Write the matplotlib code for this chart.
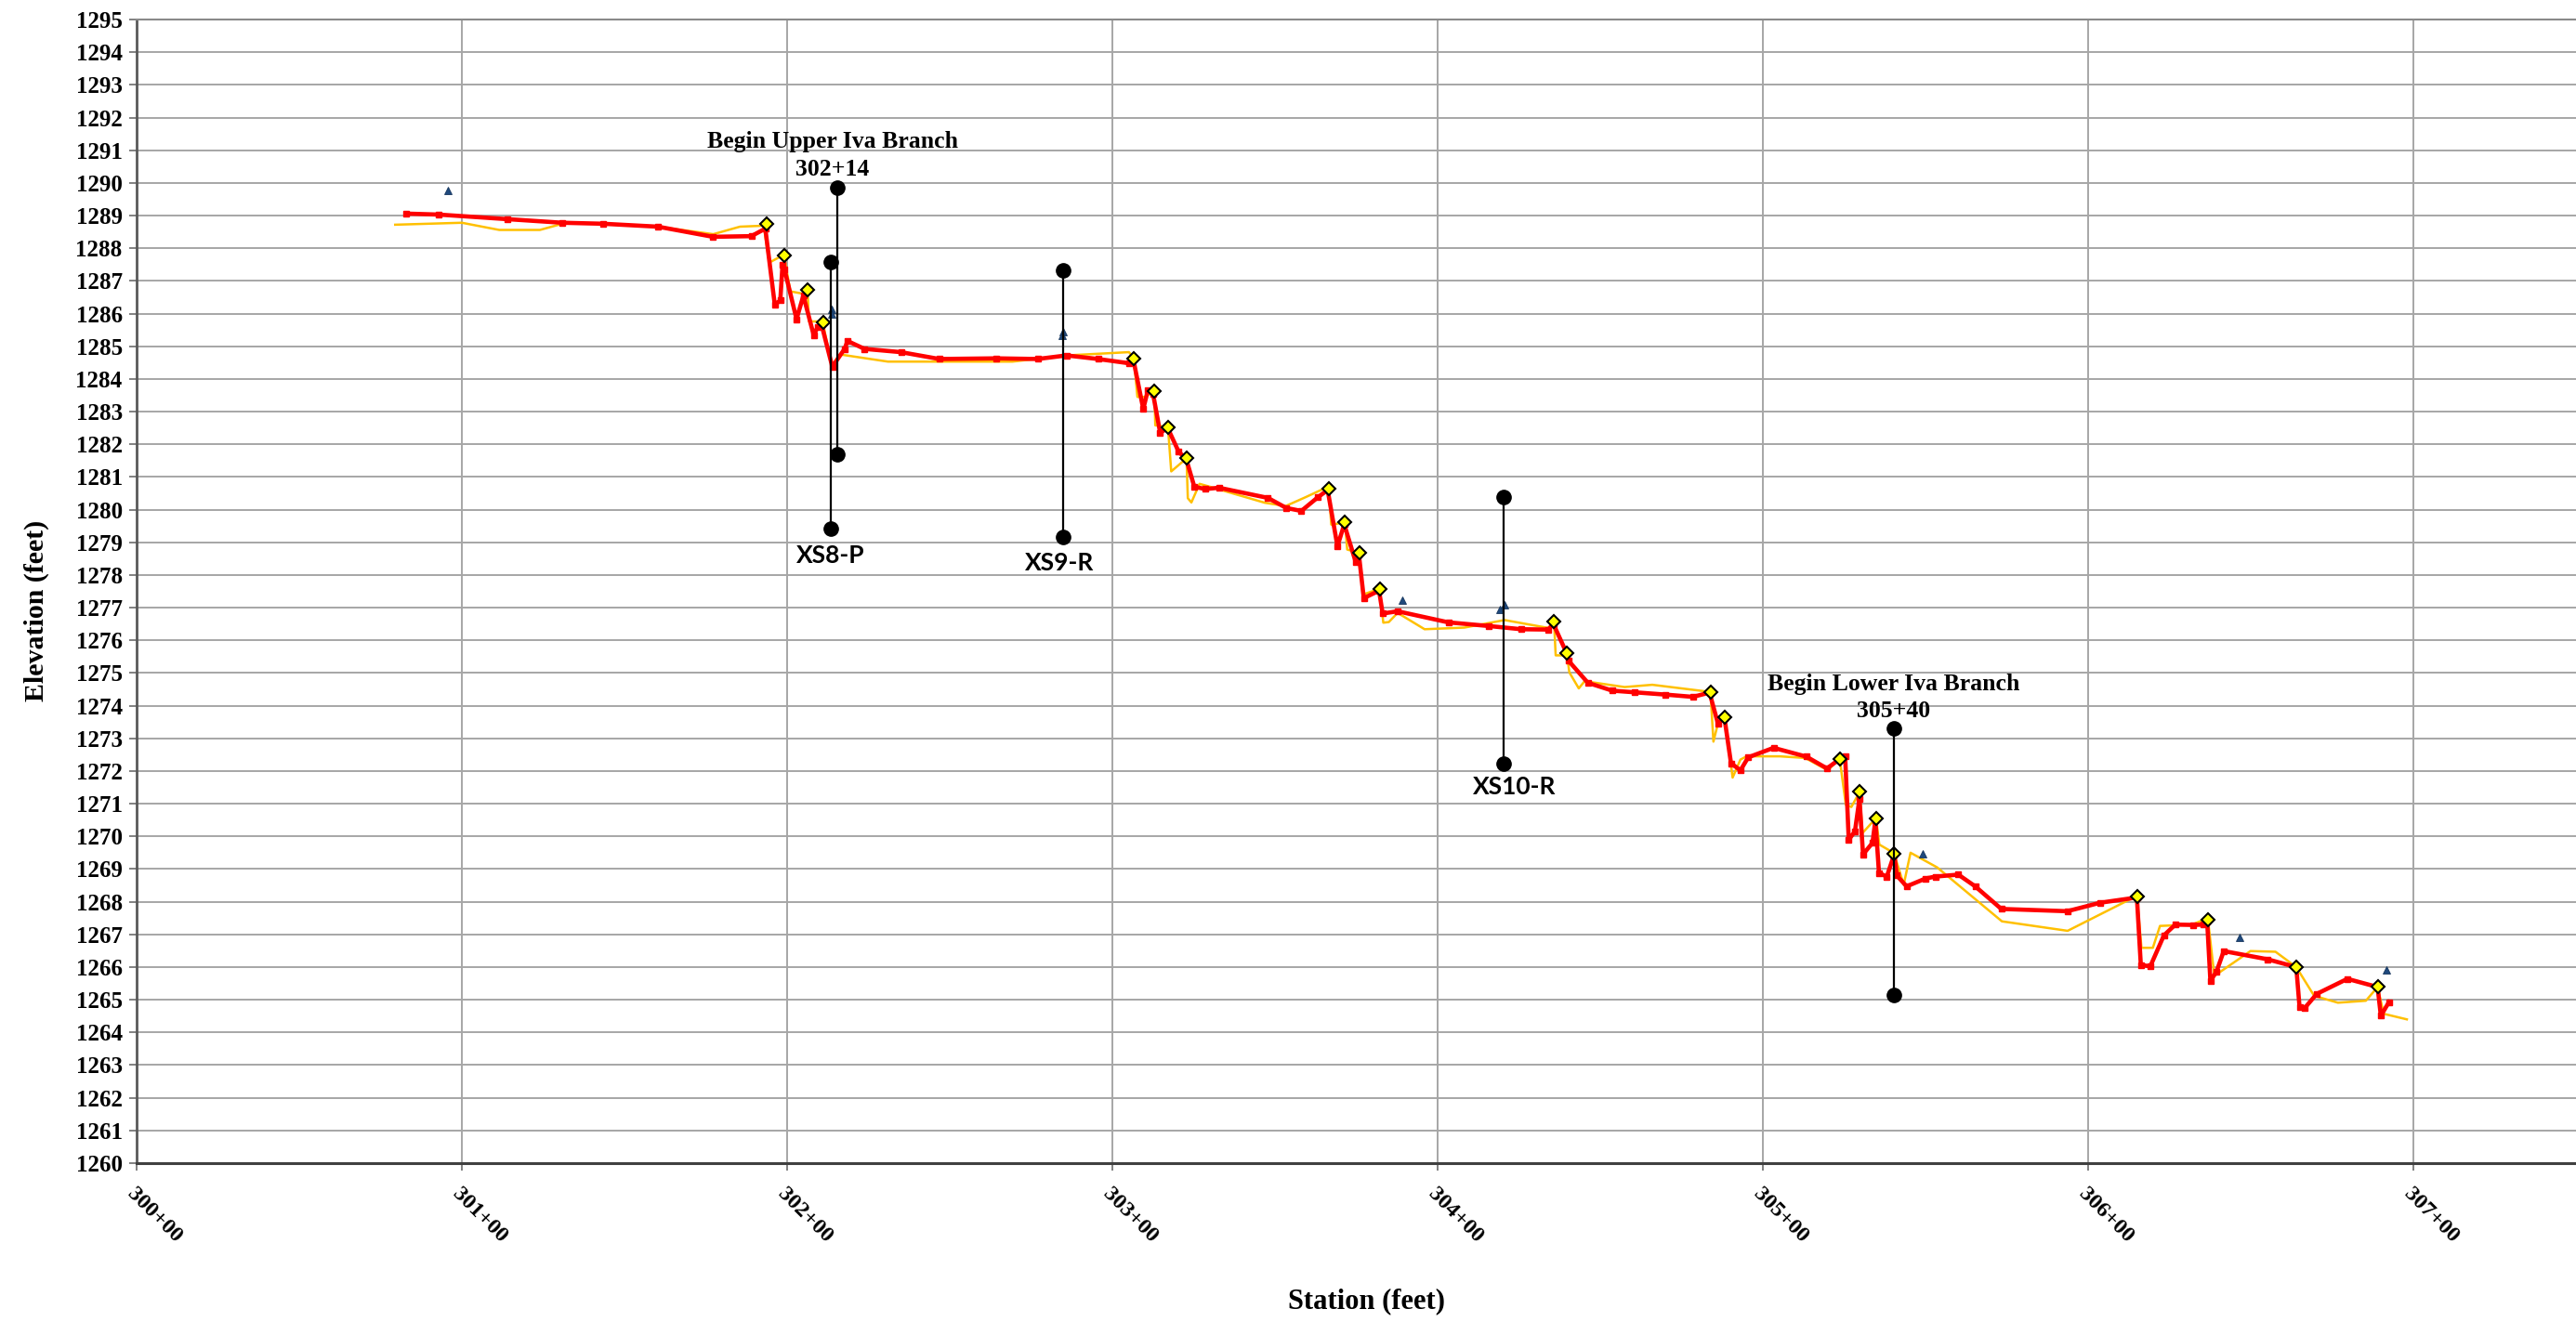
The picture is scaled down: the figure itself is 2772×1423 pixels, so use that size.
import matplotlib
matplotlib.use("Agg")
import matplotlib.pyplot as plt
from matplotlib.ticker import MultipleLocator

# ---------------- data ----------------
red_sta = [30082.8, 30092.9, 30114.0, 30130.9, 30143.3, 30160.3, 30177.2, 30189.0, 30193.3,
           30196.2, 30197.9, 30198.6, 30199.2, 30202.9, 30205.0, 30208.2, 30209.4, 30210.6,
           30213.9, 30217.6, 30218.6, 30223.8, 30235.0, 30246.8, 30264.3, 30277.0, 30285.9,
           30295.6, 30305.1, 30306.4, 30309.5, 30310.9, 30312.5, 30314.7, 30317.0, 30320.4,
           30322.7, 30325.2, 30328.6, 30332.8, 30347.8, 30353.5, 30358.1, 30363.2, 30366.2,
           30369.2, 30371.3, 30374.8, 30375.8, 30377.3, 30382.0, 30383.1, 30387.7, 30403.3,
           30415.6, 30425.7, 30434.0, 30435.6, 30439.7, 30440.2, 30446.2, 30453.7, 30460.5,
           30470.0, 30478.5, 30483.6, 30486.2, 30488.2, 30490.2, 30493.1, 30495.5, 30503.3,
           30513.4, 30519.7, 30523.4, 30525.3, 30526.4, 30528.3, 30529.7, 30530.8, 30533.7,
           30534.6, 30535.7, 30538.1, 30540.4, 30541.2, 30544.2, 30550.0, 30553.0, 30560.1,
           30565.3, 30573.3, 30593.6, 30603.7, 30615.0, 30616.2, 30619.1, 30623.3, 30626.8,
           30632.4, 30635.3, 30636.6, 30637.6, 30639.5, 30641.7, 30655.1, 30664.0, 30665.0,
           30666.7, 30670.3, 30679.7, 30689.0, 30690.0, 30692.5]
red_elev = [1289.06, 1289.03, 1288.89, 1288.78, 1288.75, 1288.66, 1288.35, 1288.37, 1288.60,
            1286.28, 1286.40, 1287.50, 1287.35, 1285.83, 1286.55, 1285.33, 1285.60, 1285.66,
            1284.37, 1284.91, 1285.16, 1284.92, 1284.82, 1284.61, 1284.63, 1284.61, 1284.72,
            1284.61, 1284.48, 1284.62, 1283.08, 1283.65, 1283.55, 1282.35, 1282.50, 1281.77,
            1281.55, 1280.70, 1280.63, 1280.67, 1280.36, 1280.05, 1279.96, 1280.38, 1280.60,
            1278.88, 1279.55, 1278.40, 1278.62, 1277.29, 1277.52, 1276.82, 1276.89, 1276.55,
            1276.44, 1276.34, 1276.33, 1276.50, 1275.60, 1275.38, 1274.70, 1274.46, 1274.41,
            1274.34, 1274.27, 1274.40, 1273.45, 1273.62, 1272.24, 1272.02, 1272.42, 1272.71,
            1272.44, 1272.08, 1272.35, 1272.45, 1269.90, 1270.15, 1271.15, 1269.45, 1269.80,
            1270.50, 1268.88, 1268.77, 1269.45, 1268.80, 1268.47, 1268.71, 1268.77, 1268.83,
            1268.47, 1267.78, 1267.71, 1267.97, 1268.13, 1266.07, 1266.02, 1266.97, 1267.30,
            1267.29, 1267.30, 1267.40, 1265.57, 1265.87, 1266.49, 1266.24, 1266.00, 1264.78,
            1264.76, 1265.18, 1265.64, 1265.39, 1264.51, 1264.93]

orange_sta = [30079.5, 30100.0, 30111.5, 30124.0, 30132.0, 30143.3, 30160.3, 30177.3, 30185.5,
              30192.8, 30194.5, 30199.0, 30201.0, 30204.8, 30206.3, 30206.7, 30209.5, 30211.0,
              30213.7, 30216.2, 30231.0, 30269.3, 30286.0, 30305.1, 30306.6, 30307.7, 30310.0,
              30312.9, 30313.2, 30317.1, 30318.1, 30322.8, 30323.2, 30324.3, 30326.8, 30330.0,
              30346.9, 30353.3, 30359.6, 30366.5, 30367.3, 30371.5, 30372.2, 30375.9, 30377.0,
              30382.2, 30383.3, 30385.0, 30387.7, 30396.0, 30408.2, 30420.6, 30434.0, 30435.8,
              30436.3, 30438.5, 30439.7, 30440.5, 30443.4, 30445.2, 30457.5, 30466.0, 30483.9,
              30484.8, 30486.3, 30488.3, 30490.7, 30493.1, 30495.0, 30505.2, 30513.0, 30520.0,
              30523.6, 30525.5, 30527.2, 30529.8, 30530.6, 30534.8, 30535.8, 30540.3, 30543.3,
              30545.4, 30553.6, 30573.5, 30593.7, 30615.0, 30616.4, 30619.9, 30622.1, 30632.0,
              30636.8, 30638.8, 30649.9, 30657.6, 30664.0, 30669.5, 30676.8, 30685.4, 30689.0,
              30690.9, 30698.0]
orange_elev = [1288.72, 1288.78, 1288.56, 1288.56, 1288.78, 1288.75, 1288.66, 1288.43, 1288.66,
               1288.69, 1287.56, 1287.80, 1286.68, 1286.61, 1286.70, 1285.76, 1285.76, 1285.72,
               1284.40, 1284.75, 1284.53, 1284.53, 1284.72, 1284.82, 1284.63, 1283.45, 1283.45,
               1283.62, 1282.58, 1282.52, 1281.17, 1281.57, 1280.35, 1280.22, 1280.79, 1280.70,
               1280.21, 1280.11, 1280.39, 1280.71, 1279.54, 1279.61, 1278.78, 1278.67, 1277.40,
               1277.58, 1276.54, 1276.56, 1276.84, 1276.34, 1276.39, 1276.62, 1276.38, 1276.57,
               1275.54, 1275.54, 1275.62, 1275.02, 1274.53, 1274.75, 1274.57, 1274.64, 1274.42,
               1272.90, 1273.50, 1273.65, 1271.80, 1272.35, 1272.45, 1272.45, 1272.40, 1272.02,
               1272.39, 1270.97, 1270.90, 1271.37, 1270.10, 1270.56, 1269.75, 1269.49, 1268.52,
               1269.50, 1269.05, 1267.40, 1267.11, 1268.18, 1266.59, 1266.59, 1267.26, 1267.30,
               1267.50, 1265.73, 1266.49, 1266.47, 1266.00, 1265.12, 1264.91, 1264.97, 1265.39,
               1264.57, 1264.40]

diamond_sta = [30193.8, 30199.0, 30206.3, 30211.0, 30306.6, 30312.9, 30317.1, 30322.8,
               30366.5, 30371.5, 30375.9, 30382.2, 30435.8, 30439.7, 30483.9, 30488.3,
               30523.6, 30529.8, 30534.8, 30540.4, 30615.0, 30636.8, 30664.0, 30689.0]
diamond_elev = [1288.74, 1287.79, 1286.72, 1285.72, 1284.63, 1283.62, 1282.52, 1281.57,
                1280.63, 1279.61, 1278.67, 1277.58, 1276.57, 1275.62, 1274.42, 1273.65,
                1272.37, 1271.36, 1270.55, 1269.48, 1268.16, 1267.45, 1266.00, 1265.39]

tri_sta = [30095.6, 30213.6, 30213.6, 30284.9, 30284.6, 30389.0, 30419.0, 30420.6,
           30549.1, 30646.6, 30691.8]
tri_elev = [1289.77, 1286.12, 1286.00, 1285.46, 1285.33, 1277.22, 1276.95, 1277.08,
            1269.46, 1266.90, 1265.90]

xs_sta = [30213.3, 30215.3, 30284.9, 30420.4, 30540.4]
xs_top = [1287.58, 1289.85, 1287.32, 1280.38, 1273.31]
xs_bot = [1279.41, 1281.68, 1279.17, 1272.22, 1265.15]

xs_names = ["XS8-P", "XS9-R", "XS10-R"]
xs_name_pos = [(30213.4, 1278.59), (30283.8, 1278.36), (30423.6, 1271.51)]

branch_lines1 = ["Begin Upper Iva Branch", "Begin Lower Iva Branch"]
branch_lines2 = ["302+14", "305+40"]
branch_pos = [(30214.0, 1291.25, 1290.42), (30540.3, 1274.66, 1273.84)]

x_ticks = [30000, 30100, 30200, 30300, 30400, 30500, 30600, 30700]
x_tick_labels = ["300+00", "301+00", "302+00", "303+00", "304+00", "305+00", "306+00", "307+00"]

# ---------------- figure ----------------
W, H = 2772, 1423
fig = plt.figure(figsize=(W / 100, H / 100), dpi=100)
ax = fig.add_axes([147 / W, 1 - 1252 / H, (W - 147) / W, (1252 - 21) / H])

serif = "Liberation Serif"

ax.set_xlim(30000, 30750)
ax.set_ylim(1260, 1295)
ax.yaxis.set_major_locator(MultipleLocator(1))
ax.set_xticks(x_ticks)
ax.set_xticklabels(x_tick_labels)

ax.grid(True, color="#a6a6a6", linewidth=1.4, zorder=0)
ax.set_axisbelow(True)

for lab in ax.get_yticklabels():
    lab.set_fontfamily(serif)
    lab.set_fontweight("bold")
    lab.set_fontsize(18)
for lab in ax.get_xticklabels():
    lab.set_fontfamily(serif)
    lab.set_fontweight("bold")
    lab.set_fontsize(17.5)
    lab.set_rotation(-45)
    lab.set_ha("left")
    lab.set_va("top")
    lab.set_rotation_mode("anchor")

ax.tick_params(axis="y", direction="out", length=6, width=1.3, color="#777777", pad=5)
ax.tick_params(axis="x", direction="out", length=6, width=1.3, color="#777777", pad=10)

ax.spines["right"].set_visible(False)
ax.spines["top"].set_color("#8a8a8a")
ax.spines["top"].set_linewidth(1.5)
ax.spines["left"].set_color("#595959")
ax.spines["left"].set_linewidth(2)
ax.spines["bottom"].set_color("#404040")
ax.spines["bottom"].set_linewidth(2.2)

# series
ax.plot(orange_sta, orange_elev, color="#FFC000", linewidth=1.8, zorder=3)
ax.plot(red_sta, red_elev, color="#FF0000", linewidth=3.3, marker="s", markersize=5,
        markerfacecolor="#FF0000", markeredgecolor="#FF0000", zorder=4)
ax.plot(diamond_sta, diamond_elev, linestyle="none", marker="D", markersize=7,
        markerfacecolor="#FFFF00", markeredgecolor="black", markeredgewidth=1.5, zorder=5)
ax.plot(tri_sta, tri_elev, linestyle="none", marker="^", markersize=5.8,
        markerfacecolor="#1F497D", markeredgecolor="#17365D", markeredgewidth=0.6, zorder=5)

for s, t, b in zip(xs_sta, xs_top, xs_bot):
    ax.plot([s, s], [t, b], color="black", linewidth=1.6, marker="o", markersize=11,
            markerfacecolor="black", markeredgecolor="black", zorder=6)

for name, (px, py) in zip(xs_names, xs_name_pos):
    ax.text(px, py, name, ha="center", va="center", fontsize=19, fontweight="bold",
            family=["Lato", "DejaVu Sans"], zorder=7)

for l1, l2, (px, py1, py2) in zip(branch_lines1, branch_lines2, branch_pos):
    ax.text(px, py1, l1, ha="center", va="center", fontsize=18.5, fontweight="bold",
            family=serif, zorder=7)
    ax.text(px, py2, l2, ha="center", va="center", fontsize=18.5, fontweight="bold",
            family=serif, zorder=7)

fig.text(39 / W, 1 - 657 / H, "Elevation (feet)", rotation=90, ha="center", va="center",
         fontsize=21.5, fontweight="bold", family=serif)
fig.text(1470 / W, 1 - 1401 / H, "Station (feet)", ha="center", va="center",
         fontsize=22, fontweight="bold", family=serif)

fig.savefig("out.png", dpi=100)
